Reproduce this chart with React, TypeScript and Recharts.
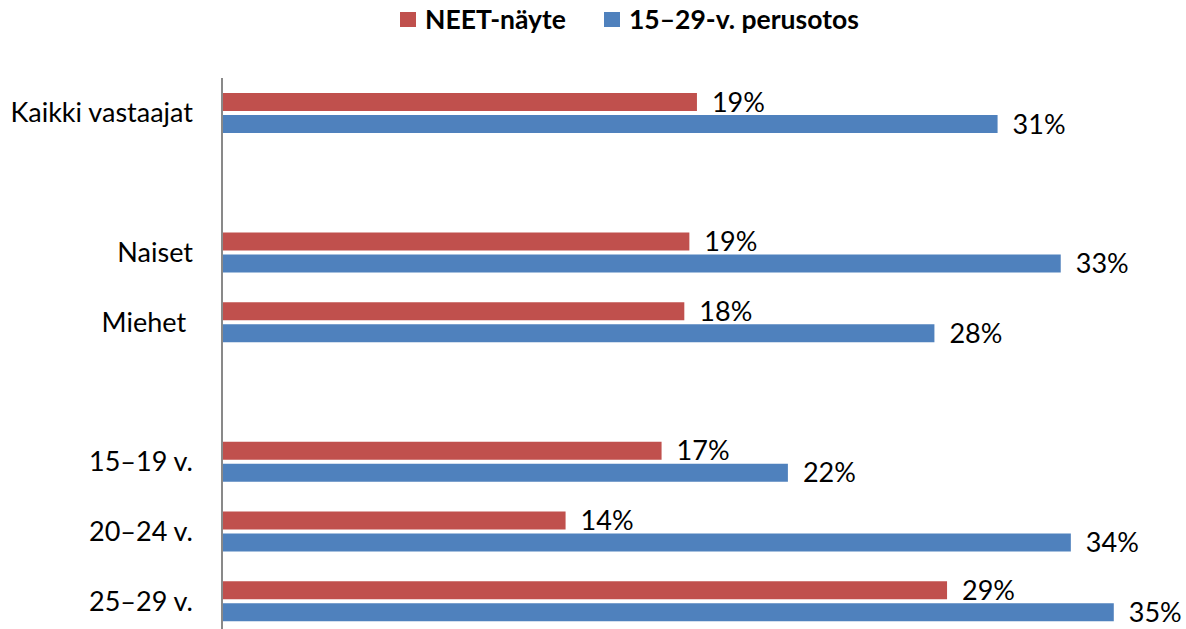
import React from "react";
import { Bar, BarChart, LabelList, Legend, XAxis, YAxis } from "recharts";

const FONT = "Lato, 'Noto Sans', sans-serif";
const RED = "#C0504D";
const BLUE = "#4F81BD";

// empty strings are the spacer rows between groups
const categories = ["Kaikki vastaajat", "", "Naiset", "Miehet\u00a0", "", "15–19 v.", "20–24 v.", "25–29 v."];
const neet = [18.8, null, 18.5, 18.3, null, 17.4, 13.6, 28.7];
const perusotos = [30.7, null, 33.2, 28.2, null, 22.4, 33.6, 35.3];
const seriesNames = ["NEET-näyte", "15–29-v. perusotos"];

const data = categories.map((name, i) => ({
  name,
  neet: neet[i],
  perusotos: perusotos[i],
}));

const pct = (v: any) => (v == null ? "" : `${Math.round(Number(v))}%`);

function LegendBox() {
  const items = [
    { name: seriesNames[0], color: RED },
    { name: seriesNames[1], color: BLUE },
  ];
  return (
    <div style={{ display: "flex", alignItems: "center", fontFamily: FONT, fontWeight: 700, fontSize: 26.5, color: "#000" }}>
      {items.map((it, i) => (
        <div key={it.name} style={{ display: "flex", alignItems: "center", marginLeft: i ? 38 : 0 }}>
          <span style={{ width: 16, height: 15, background: it.color, display: "inline-block", marginRight: 9 }} />
          <span>{it.name}</span>
        </div>
      ))}
    </div>
  );
}

export default function App() {
  return (
    <div style={{ position: "fixed", left: 0, top: 0, width: 1186, height: 629, overflow: "hidden", background: "#fff" }}>
      <BarChart
        width={1186}
        height={640}
        data={data}
        layout="vertical"
        margin={{ top: 78, right: 4, bottom: 4, left: 0 }}
        barSize={18}
        barGap={4}
      >
        <XAxis type="number" domain={[0, 38]} hide />
        <YAxis
          type="category"
          dataKey="name"
          width={222}
          tickLine={false}
          tickSize={0}
          tickMargin={29}
          axisLine={{ stroke: "#898989", strokeWidth: 2 }}
          tick={{ fill: "#000", fontSize: 27, fontFamily: FONT }}
          interval={0}
        />
        <Legend
          layout="horizontal"
          verticalAlign="middle"
          align="center"
          wrapperStyle={{ top: 3, left: 400, width: "auto" }}
          content={() => <LegendBox />}
        />
        <Bar dataKey="neet" name={seriesNames[0]} fill={RED} isAnimationActive={false}>
          <LabelList dataKey="neet" position="right" offset={15} formatter={pct} fill="#000" fontSize={27} fontFamily={FONT} />
        </Bar>
        <Bar dataKey="perusotos" name={seriesNames[1]} fill={BLUE} isAnimationActive={false}>
          <LabelList dataKey="perusotos" position="right" offset={15} formatter={pct} fill="#000" fontSize={27} fontFamily={FONT} />
        </Bar>
      </BarChart>
    </div>
  );
}
